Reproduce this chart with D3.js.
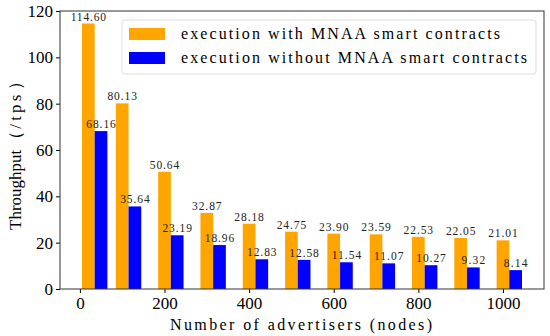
<!DOCTYPE html>
<html>
<head>
<meta charset="utf-8">
<script src="https://cdn.jsdelivr.net/npm/d3@7"></script>
<style>
  body { margin: 0; background: #fff; }
  svg { display: block; }
</style>
</head>
<body>
<svg id="chart"></svg>
<script>
// advertisers (nodes) per group
const nodeCounts = [20, 100, 200, 300, 400, 500, 600, 700, 800, 900, 1000];
const withMnaa = [114.60, 80.13, 50.64, 32.87, 28.18, 24.75, 23.90, 23.59, 22.53, 22.05, 21.01];
const withoutMnaa = [68.16, 35.64, 23.19, 18.96, 12.83, 12.58, 11.54, 11.07, 10.27, 9.32, 8.14];
const xTicks = [0, 200, 400, 600, 800, 1000];
const yTicks = [0, 20, 40, 60, 80, 100, 120];
const seriesNames = ['execution with MNAA smart contracts', 'execution without MNAA smart contracts'];

const COLORS = ['#ffa500', '#0000ff'];
const SERIF = '"Liberation Serif", "DejaVu Serif", serif';
const width = 550, height = 336;
const margin = { top: 11, right: 6, bottom: 47, left: 60 };
const barW = 30; // in data units

const svg = d3.select('#chart').attr('width', width).attr('height', height);

const x = d3.scaleLinear()
    .domain([-47, 1097])
    .range([margin.left, width - margin.right]);

const y = d3.scaleLinear()
    .domain([0, 120])
    .range([height - margin.bottom, margin.top]);

const series = [withMnaa, withoutMnaa];

series.forEach((vals, s) => {
    const g = svg.append('g');
    const rows = nodeCounts.map((n, i) => ({ n, v: vals[i] }));

    g.selectAll('rect')
        .data(rows)
        .join('rect')
        .attr('x', d => x(d.n - barW / 2 + s * barW))
        .attr('width', d => x(d.n + barW / 2 + s * barW) - x(d.n - barW / 2 + s * barW))
        .attr('y', d => y(d.v))
        .attr('height', d => y(0) - y(d.v))
        .attr('fill', COLORS[s]);

    // labels look monospaced in the original, so stretch them per char
    g.selectAll('text')
        .data(rows)
        .join('text')
        .attr('x', d => x(d.n + s * barW))
        .attr('y', d => y(d.v) - 3)
        .attr('text-anchor', 'middle')
        .attr('font-family', SERIF)
        .attr('font-size', 11.5)
        .attr('fill', '#222')
        .attr('textLength', d => d.v.toFixed(2).length * 5.9)
        .attr('lengthAdjust', 'spacing')
        .text(d => d.v.toFixed(2));
});

// axes
const xAxis = svg.append('g')
    .attr('transform', `translate(0,${y(0)})`)
    .call(d3.axisBottom(x).tickValues(xTicks).tickFormat(d3.format('d')).tickSize(4).tickPadding(4));

const yAxis = svg.append('g')
    .attr('transform', `translate(${margin.left},0)`)
    .call(d3.axisLeft(y).tickValues(yTicks).tickSize(4).tickPadding(3));

[xAxis, yAxis].forEach(a => {
    a.select('.domain').remove();
    a.selectAll('text')
        .attr('font-family', SERIF)
        .attr('font-size', 17)
        .attr('fill', '#000');
    a.selectAll('line').attr('stroke', '#000');
});

// frame
svg.append('rect')
    .attr('x', margin.left)
    .attr('y', margin.top)
    .attr('width', width - margin.right - margin.left)
    .attr('height', y(0) - margin.top)
    .attr('fill', 'none')
    .attr('stroke', '#333')
    .attr('stroke-width', 1);

// axis titles
svg.append('text')
    .attr('x', 301)
    .attr('y', 330)
    .attr('text-anchor', 'middle')
    .attr('font-family', SERIF)
    .attr('font-size', 16)
    .attr('textLength', 262)
    .attr('lengthAdjust', 'spacing')
    .text('Number of advertisers (nodes)');

const yTitle = svg.append('text')
    .attr('transform', `translate(15,230) rotate(-90)`)
    .attr('dy', '0.35em')
    .attr('font-family', SERIF)
    .attr('font-size', 17);
yTitle.append('tspan').text('Throughput');
yTitle.append('tspan').attr('dx', 2).text('（');
yTitle.append('tspan').attr('dx', 2)
    .attr('textLength', 34).attr('lengthAdjust', 'spacing')
    .text('/tps');
yTitle.append('tspan').attr('dx', 2).text('）');

// legend
const legend = svg.append('g');
legend.append('rect')
    .attr('x', 122).attr('y', 20)
    .attr('width', 414).attr('height', 54)
    .attr('rx', 3)
    .attr('fill', '#fff')
    .attr('fill-opacity', 0.8)
    .attr('stroke', '#ddd');

const legendLens = [319, 346];
seriesNames.forEach((name, i) => {
    legend.append('rect')
        .attr('x', 129).attr('y', 28 + i * 24)
        .attr('width', 36).attr('height', 12)
        .attr('fill', COLORS[i]);
    legend.append('text')
        .attr('x', 181).attr('y', 39 + i * 24)
        .attr('font-family', SERIF)
        .attr('font-size', 16)
        .attr('textLength', legendLens[i])
        .attr('lengthAdjust', 'spacing')
        .text(name);
});
</script>
</body>
</html>
